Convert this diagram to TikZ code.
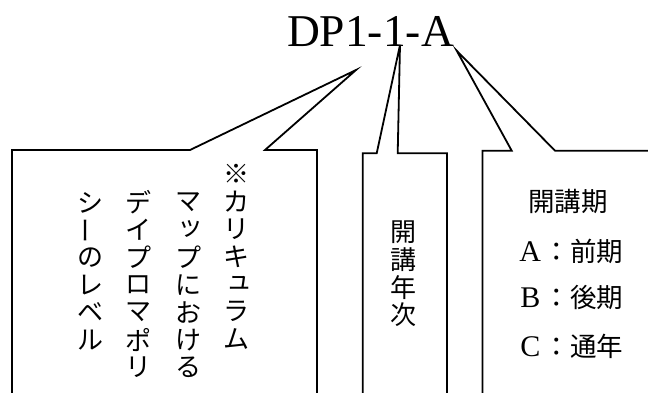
\documentclass[tikz,border=0pt]{standalone}
\usepackage{fontspec}
\usepackage{graphicx}
\setmainfont{Liberation Serif}
\newfontfamily\jpfont{Noto Sans CJK JP}
\tikzset{
  callout/.style={draw=black, line width=1.8pt, line join=miter},
  jp/.style={font=\jpfont\fontsize{26.5}{30}\selectfont, inner sep=0pt},
  jpv/.style={font=\jpfont\fontsize{26}{30}\selectfont, inner sep=0pt},
  codetitle/.style={font=\fontsize{45.5}{50}\selectfont, inner sep=0pt, anchor=base},
}
\newcommand\smk[1]{\makebox[1em]{\hspace{0.2em}\raisebox{0.04em}[\height][\depth]{#1}}}
\newcommand\vbar{\rotatebox[origin=c]{90}{ー}}
\newcommand\latin[1]{\makebox[1em]{\rmfamily\fontsize{30}{30}\selectfont #1}}
\newcommand\vcolumn[4]{\foreach \ch [count=\i] in {#4} {\node[jpv] (#1-\i) at (#2,{#3+(\i-1)*27.5}) {\ch};}}
\begin{document}
\begin{tikzpicture}[x=1pt,y=-1pt]
\useasboundingbox (0,0) rectangle (648,392);
\clip (0,0) rectangle (648,392);
% title
\node[codetitle] (code) at (370.5,46) {DP1-1-A};
% callout shapes
\coordinate (tipL) at (356,70);
\coordinate (tipM) at (400,45);
\coordinate (tipR) at (456.7,50.7);
\draw[callout] (12,400) -- (12,150) -- (190,150) -- (tipL) -- (265,150) -- (317,150) -- (317,400);
\draw[callout] (362.7,400) -- (362.7,153.3) -- (376.7,153.3) -- (tipM) -- (397.7,153.3) -- (447,153.3) -- (447,400);
\draw[callout] (482.5,400) -- (482.5,150.7) -- (511.7,150.7) -- (tipR) -- (555,150.7) -- (660,150.7);
% left box vertical text
\vcolumn{colA}{236.7}{174}{※,カ,リ,キ,\smk{ュ},ラ,ム}
\vcolumn{colB}{188}{202.5}{マ,\smk{ッ},プ,に,お,け,る}
\vcolumn{colC}{138}{202.5}{デ,イ,プ,ロ,マ,ポ,リ}
\vcolumn{colD}{90}{202.5}{シ,\vbar,の,レ,ベ,ル}
% middle box
\vcolumn{colM}{403.3}{232.5}{開,講,年,次}
% right box
\node[jp] (kouki) at (568,201.5) {開講期};
\node[jp] (lineA) at (570,251) {\latin{A}：前期};
\node[jp] (lineB) at (570,297.5) {\latin{B}：後期};
\node[jp] (lineC) at (570,346) {\latin{C}：通年};
\end{tikzpicture}
\end{document}
